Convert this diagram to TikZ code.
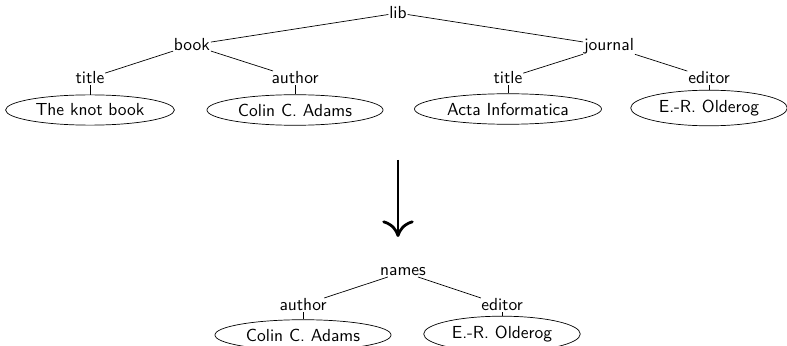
\documentclass[tikz,border=0pt]{standalone}
\usetikzlibrary{shapes.geometric,arrows.meta}
\tikzset{
  lbl/.style={inner sep=0.3pt,font=\sffamily},
  leaf/.style={draw,ellipse,inner xsep=3pt,inner ysep=2.6pt,font=\sffamily},
}
\begin{document}
\begin{tikzpicture}[x=0.5727pt,y=-0.5727pt]
\useasboundingbox (0,0) rectangle (787,346);
% source tree
\node[lbl] (lib) at (398,13) {lib};
\node[lbl] (book) at (192,45) {book};
\node[lbl] (jour) at (609,46) {journal};
\node[lbl] (t1) at (90,78) {title};
\node[lbl] (a1) at (295,78) {author};
\node[lbl] (t2) at (508,78) {title};
\node[lbl] (e1) at (709,78) {editor};
\node[leaf] (v1) at (90,110) {The knot book};
\node[leaf] (v2) at (295,110) {Colin C. Adams};
\node[leaf] (v3) at (508,109) {Acta Informatica};
\node[leaf] (v4) at (709,108) {E.-R. Olderog};
\draw (lib) -- (book);
\draw (lib) -- (jour);
\draw (book) -- (t1);
\draw (book) -- (a1);
\draw (jour) -- (t2);
\draw (jour) -- (e1);
\draw (t1) -- (v1);
\draw (a1) -- (v2);
\draw (t2) -- (v3);
\draw (e1) -- (v4);
% transformation arrow
\coordinate (arrtop) at (398,160);
\coordinate (arrbot) at (398,237);
\draw[line width=1.6pt,-{To[length=9.5pt,width=18pt]}] (arrtop) -- (arrbot);
% result tree
\node[lbl] (names) at (403,272) {names};
\node[lbl] (a2) at (303,305) {author};
\node[lbl] (e2) at (502,305) {editor};
\node[leaf] (w1) at (303,335) {Colin C. Adams};
\node[leaf] (w2) at (502,334) {E.-R. Olderog};
\draw (names) -- (a2);
\draw (names) -- (e2);
\draw (a2) -- (w1);
\draw (e2) -- (w2);
\end{tikzpicture}
\end{document}
